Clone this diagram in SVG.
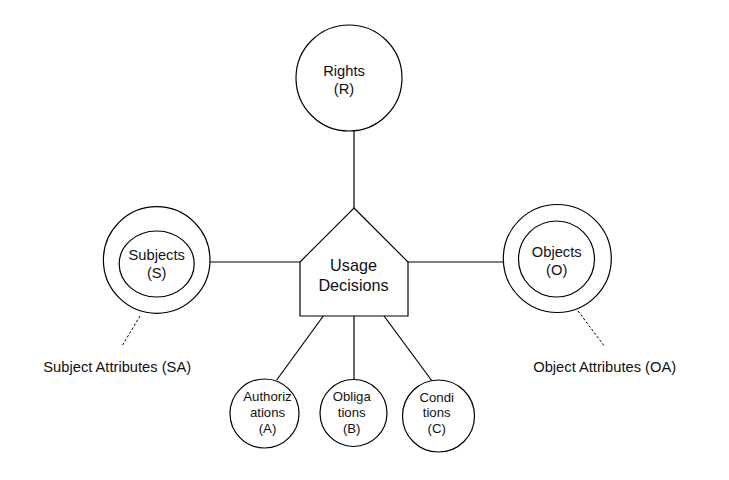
<svg xmlns="http://www.w3.org/2000/svg" width="729" height="480" viewBox="0 0 729 480">
<style>
.s{fill:#fff;stroke:#000;stroke-width:1.2}
.c{fill:none;stroke:#000;stroke-width:1.2}
.d{fill:none;stroke:#000;stroke-width:1;stroke-dasharray:2.5,2}
text{font-family:"Liberation Sans",Arial,sans-serif;fill:#111;text-anchor:middle}
.t{font-size:14.7px}
.b{font-size:16.2px}
.m{font-size:13.2px}
</style>
<rect width="729" height="480" fill="#fff"/>
<g id="connectors">
<line class="c" x1="354" y1="130.5" x2="354" y2="208"/>
<line class="c" x1="210" y1="262" x2="300" y2="262"/>
<line class="c" x1="408" y1="262" x2="503" y2="262"/>
<line class="c" x1="323.3" y1="316" x2="276.7" y2="380"/>
<line class="c" x1="354" y1="316" x2="354" y2="379.5"/>
<line class="c" x1="384" y1="316" x2="431.7" y2="380.5"/>
<line class="d" x1="140" y1="316" x2="122" y2="346"/>
<line class="d" x1="578" y1="311" x2="605" y2="347"/>
</g>
<g id="rights">
<circle class="s" cx="349" cy="78" r="53"/>
<text class="t" x="344" y="76">Rights</text>
<text class="t" x="344" y="93.5">(R)</text>
</g>
<g id="usage-decisions">
<polygon class="s" points="354,208 408,262 408,316 300,316 300,262"/>
<text class="b" x="353.5" y="271">Usage</text>
<text class="b" x="353.5" y="291">Decisions</text>
</g>
<g id="subjects">
<circle class="s" cx="156.7" cy="260" r="53.3"/>
<ellipse class="s" cx="156.7" cy="264" rx="37.5" ry="33"/>
<text class="t" x="156.7" y="260">Subjects</text>
<text class="t" x="156.7" y="278">(S)</text>
</g>
<g id="subject-attributes">
<text class="t" x="117.2" y="371.5">Subject Attributes (SA)</text>
</g>
<g id="objects">
<circle class="s" cx="557.3" cy="258.5" r="54"/>
<circle class="s" cx="556.5" cy="259" r="38"/>
<text class="t" x="556.7" y="257.3">Objects</text>
<text class="t" x="556.7" y="274.5">(O)</text>
</g>
<g id="object-attributes">
<text class="t" x="604.7" y="371.5">Object Attributes (OA)</text>
</g>
<g id="authorizations">
<circle class="s" cx="264.5" cy="413.5" r="34.5"/>
<text class="m" x="267.5" y="401">Authoriz</text>
<text class="m" x="267.5" y="417">ations</text>
<text class="m" x="267.5" y="433">(A)</text>
</g>
<g id="obligations">
<circle class="s" cx="353.5" cy="413" r="33.5"/>
<text class="m" x="351.7" y="401">Obliga</text>
<text class="m" x="351.7" y="417">tions</text>
<text class="m" x="351.7" y="433">(B)</text>
</g>
<g id="conditions">
<circle class="s" cx="438.5" cy="416" r="36"/>
<text class="m" x="436.7" y="401.5">Condi</text>
<text class="m" x="436.7" y="417.3">tions</text>
<text class="m" x="436.7" y="433.3">(C)</text>
</g>
</svg>
